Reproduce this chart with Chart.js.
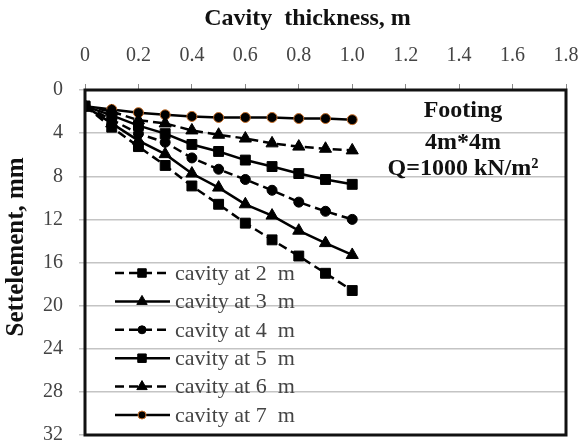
<!DOCTYPE html>
<html>
<head>
<meta charset="utf-8">
<script src="https://cdn.jsdelivr.net/npm/chart.js@4/dist/chart.umd.min.js"></script>
<style>
  html, body { margin: 0; padding: 0; background: #fff; }
  #wrap { width: 580px; height: 445px; }
</style>
</head>
<body>
<div id="wrap"><canvas id="chart"></canvas></div>
<script>
// cavity thickness (m)
const thickness = [0, 0.1, 0.2, 0.3, 0.4, 0.5, 0.6, 0.7, 0.8, 0.9, 1.0];

// settlement (mm) for each cavity depth
const cavity2 = [1.5, 3.45, 5.25, 7.0, 8.9, 10.6, 12.35, 13.9, 15.4, 17.0, 18.6];
const cavity3 = [1.5, 3.1, 4.7, 5.95, 7.75, 9.05, 10.6, 11.65, 13.05, 14.2, 15.3];
const cavity4 = [1.5, 2.75, 4.05, 4.85, 6.3, 7.35, 8.3, 9.3, 10.4, 11.25, 12.0];
const cavity5 = [1.5, 2.35, 3.3, 4.05, 5.05, 5.7, 6.5, 7.1, 7.75, 8.3, 8.75];
const cavity6 = [1.5, 2.0, 2.8, 3.1, 3.75, 4.15, 4.5, 4.95, 5.25, 5.45, 5.6];
const cavity7 = [1.5, 1.8, 2.1, 2.3, 2.45, 2.55, 2.55, 2.55, 2.65, 2.65, 2.75];

const seriesLabels = ['cavity at 2  m', 'cavity at 3  m', 'cavity at 4  m',
                      'cavity at 5  m', 'cavity at 6  m', 'cavity at 7  m'];
const noteLines = ['Footing', '4m*4m', 'Q=1000 kN/m²'];

const serif = '"Liberation Serif", "Times New Roman", serif';
const dash = [9, 5];
const nbsp = '\u00a0';

const makeSet = (label, values, style, dashed, radius, edge) => ({
    label: label,
    data: thickness.map((t, i) => ({ x: t, y: values[i] })),
    borderColor: '#000',
    backgroundColor: '#000',
    borderWidth: 2.5,
    borderDash: dashed ? dash : [],
    pointStyle: style,
    pointRadius: radius,
    pointBackgroundColor: '#000',
    pointBorderColor: edge || '#000',
    pointBorderWidth: 1,
    tension: 0
});

// legend drawn inside the plot, lower left
const innerLegend = {
    id: 'innerLegend',
    afterDatasetsDraw(chart) {
        const { ctx, chartArea } = chart;
        const x0 = chartArea.left + 30;
        const y0 = chartArea.bottom - 162;
        ctx.save();
        chart.data.datasets.forEach((ds, i) => {
            const y = y0 + i * 28.4;
            ctx.strokeStyle = '#000';
            ctx.lineWidth = 2.5;
            ctx.setLineDash(ds.borderDash);
            ctx.beginPath();
            ctx.moveTo(x0, y);
            ctx.lineTo(x0 + 55, y);
            ctx.stroke();
            ctx.setLineDash([]);
            ctx.fillStyle = ds.pointBackgroundColor;
            ctx.strokeStyle = ds.pointBorderColor;
            ctx.lineWidth = 1;
            Chart.helpers.drawPoint(ctx, { pointStyle: ds.pointStyle, radius: ds.pointRadius - 1, borderWidth: 1, rotation: 0 }, x0 + 27, y);
            ctx.fillStyle = '#444';
            ctx.font = '22px ' + serif;
            ctx.textAlign = 'left';
            ctx.textBaseline = 'middle';
            ctx.fillText(ds.label, x0 + 60, y + 1);
        });
        ctx.restore();
    }
};

// frame round the plot area and the footing note
const frameAndNote = {
    id: 'frameAndNote',
    afterDraw(chart) {
        const { ctx, chartArea } = chart;
        ctx.save();
        ctx.strokeStyle = '#111';
        ctx.lineWidth = 3;
        ctx.strokeRect(chartArea.left, chartArea.top, chartArea.right - chartArea.left, chartArea.bottom - chartArea.top);
        const cx = chartArea.right - 103;
        ctx.fillStyle = '#111';
        ctx.textAlign = 'center';
        ctx.textBaseline = 'alphabetic';
        ctx.font = 'bold 24px ' + serif;
        ctx.fillText(noteLines[0], cx, chartArea.top + 27);
        ctx.fillText(noteLines[1], cx, chartArea.top + 59);
        ctx.fillText(noteLines[2], cx, chartArea.top + 85);
        ctx.restore();
    }
};

new Chart(document.getElementById('chart'), {
    type: 'line',
    data: {
        datasets: [
            makeSet(seriesLabels[0], cavity2, 'rect', true, 7),
            makeSet(seriesLabels[1], cavity3, 'triangle', false, 7),
            makeSet(seriesLabels[2], cavity4, 'circle', true, 5),
            makeSet(seriesLabels[3], cavity5, 'rect', false, 7),
            makeSet(seriesLabels[4], cavity6, 'triangle', true, 7),
            makeSet(seriesLabels[5], cavity7, 'circle', false, 5, '#c8702a')
        ]
    },
    options: {
        responsive: true,
        maintainAspectRatio: false,
        animation: false,
        layout: { padding: { top: 0, right: 14, bottom: 10, left: 0 } },
        plugins: {
            legend: { display: false },
            tooltip: { enabled: false }
        },
        scales: {
            x: {
                type: 'linear',
                position: 'top',
                min: 0,
                max: 1.8,
                afterFit: (scale) => { scale.height = 90; scale.paddingLeft = 0; scale.paddingRight = 0; },
                ticks: { stepSize: 0.2, color: '#444', font: { family: serif, size: 20 }, padding: 16 },
                grid: { drawOnChartArea: false, tickLength: 6, color: '#888' },
                border: { display: false },
                // trailing spaces nudge the title a little left of the axis centre, as in the picture
                title: { display: true, text: 'Cavity  thickness, m' + nbsp.repeat(6), color: '#111',
                         font: { family: serif, size: 24, weight: 'bold' }, padding: { top: 4, bottom: 0 } }
            },
            y: {
                reverse: true,
                min: 0,
                max: 32,
                afterFit: (scale) => { scale.width = 85; scale.paddingTop = 0; scale.paddingBottom = 0; },
                ticks: { stepSize: 4, color: '#444', font: { family: serif, size: 20 }, padding: 16 },
                grid: { color: '#c4c4c4', lineWidth: 1.5, tickLength: 6 },
                border: { display: false },
                title: { display: true, text: nbsp.repeat(5) + 'Settelement, mm', color: '#111',
                         font: { family: serif, size: 25, weight: 'bold' }, padding: { top: 2, bottom: 0 } }
            }
        }
    },
    plugins: [innerLegend, frameAndNote]
});
</script>
</body>
</html>
